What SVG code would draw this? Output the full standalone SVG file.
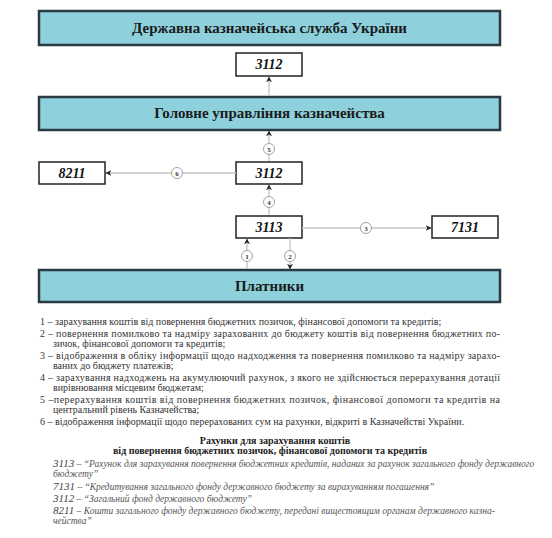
<svg xmlns="http://www.w3.org/2000/svg" width="552" height="538" viewBox="0 0 552 538">
<defs>
<marker id="ah" viewBox="0 0 10 10" refX="9" refY="5" markerWidth="6" markerHeight="6" orient="auto" markerUnits="userSpaceOnUse">
<path d="M0,0 L10,5 L0,10 L3,5 Z" fill="#222"/>
</marker>
</defs>
<g font-family="Liberation Serif, Times New Roman, serif">
<g fill="#8ed1dd" stroke="#2b3a40" stroke-width="2.5">
<rect id="treasury-box" x="39" y="11" width="461" height="34"/>
<rect id="main-box" x="39" y="97" width="461" height="33"/>
<rect id="payers-box" x="39" y="270" width="461" height="32"/>
</g>
<g font-weight="bold" fill="#1a1a1a" text-anchor="middle" font-size="15">
<text id="treasury" x="269.5" y="33">Державна казначейська служба України</text>
<text id="main" x="269.5" y="118">Головне управління казначейства</text>
<text id="payers" x="269.5" y="291">Платники</text>
</g>
<g fill="#fff" stroke="#222" stroke-width="1.5">
<rect x="236" y="53" width="66" height="23"/>
<rect x="39" y="162" width="66" height="22"/>
<rect x="236" y="162" width="66" height="22"/>
<rect x="236" y="216" width="66" height="22"/>
<rect x="432" y="216" width="66" height="22"/>
</g>
<g font-weight="bold" font-style="italic" font-size="14" fill="#111" text-anchor="middle">
<text id="acc3112top" x="269" y="69">3112</text>
<text id="acc8211" x="72" y="178">8211</text>
<text id="acc3112" x="269" y="178">3112</text>
<text id="acc3113" x="269" y="232">3113</text>
<text id="acc7131" x="465" y="232">7131</text>
</g>
<g id="connectors">
<g stroke="#c4c4c4" stroke-width="1.3" fill="none" marker-end="url(#ah)">
<line x1="269" y1="96" x2="269" y2="77"/>
<line x1="269" y1="161" x2="269" y2="131"/>
<line x1="236" y1="173" x2="106" y2="173"/>
<line x1="269" y1="215" x2="269" y2="185"/>
<line x1="302" y1="228" x2="431" y2="228"/>
<line x1="247" y1="269" x2="247" y2="239"/>
<line x1="290" y1="238" x2="290" y2="269"/>
</g>
<g fill="#fff" stroke="#999" stroke-width="0.9">
<circle cx="269" cy="149" r="5.5"/>
<circle cx="177" cy="173" r="5.5"/>
<circle cx="269" cy="202" r="5.5"/>
<circle cx="366" cy="228" r="5.5"/>
<circle cx="247" cy="256" r="5.5"/>
<circle cx="290" cy="256" r="5.5"/>
</g>
<g font-size="7" font-weight="bold" fill="#333" text-anchor="middle">
<text x="269" y="151.5">5</text>
<text x="177" y="175.5">6</text>
<text x="269" y="204.5">4</text>
<text x="366" y="230.5">3</text>
<text x="247" y="258.5">1</text>
<text x="290" y="258.5">2</text>
</g>
</g>
<g id="legend" font-size="10" fill="#333">
<text x="40" y="325">1 – зарахування коштів від повернення бюджетних позичок, фінансової допомоги та кредитів;</text>
<text x="40" y="337" textLength="460" lengthAdjust="spacing">2 – повернення помилково та надміру зарахованих до бюджету коштів від повернення бюджетних по-</text>
<text x="53" y="347">зичок, фінансової допомоги та кредитів;</text>
<text x="40" y="359" textLength="460" lengthAdjust="spacing">3 – відображення в обліку інформації щодо надходження та повернення помилково та надміру зарахо-</text>
<text x="53" y="369">ваних до бюджету платежів;</text>
<text x="40" y="381" textLength="460" lengthAdjust="spacing">4 – зарахування надходжень на акумулюючий рахунок, з якого не здійснюється перерахування дотації</text>
<text x="53" y="391">вирівнювання місцевим бюджетам;</text>
<text x="40" y="403" textLength="460" lengthAdjust="spacing">5 –перерахування коштів від повернення бюджетних позичок, фінансової допомоги та кредитів на</text>
<text x="53" y="413">центральний рівень Казначейства;</text>
<text x="40" y="425">6 – відображення інформації щодо перерахованих сум на рахунки, відкриті в Казначействі України.</text>
</g>
<g font-size="10" font-weight="bold" fill="#222" text-anchor="middle">
<text x="275" y="444">Рахунки для зарахування коштів</text>
<text x="270" y="454">від повернення бюджетних позичок, фінансової допомоги та кредитів</text>
</g>
<g font-size="9.5" font-style="italic" fill="#555">
<text x="53" y="467"><tspan font-size="11" fill="#444">3113</tspan> – “Рахунок для зарахування повернення бюджетних кредитів, наданих за рахунок загального фонду державного</text>
<text x="53" y="477">бюджету”</text>
<text x="53" y="490"><tspan font-size="11" fill="#444">7131</tspan> – “Кредитування загального фонду державного бюджету за вирахуванням погашення”</text>
<text x="53" y="502"><tspan font-size="11" fill="#444">3112</tspan> – “Загальний фонд державного бюджету”</text>
<text x="53" y="514"><tspan font-size="11" fill="#444">8211</tspan> –  Кошти загального фонду державного бюджету, передані вищестоящим органам державного казна-</text>
<text x="53" y="524">чейства”</text>
</g>
</g>
</svg>
